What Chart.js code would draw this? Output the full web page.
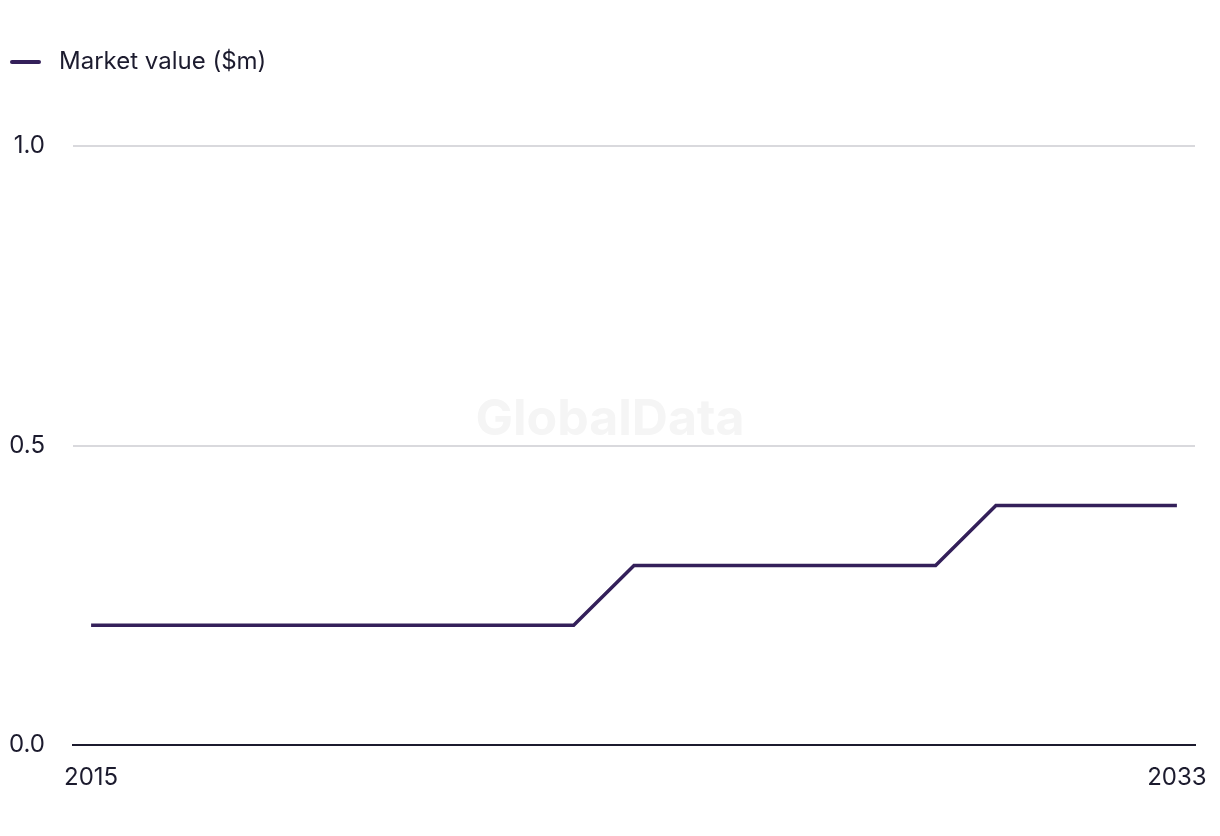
<!DOCTYPE html>
<html>
<head>
<meta charset="utf-8">
<script src="https://cdn.jsdelivr.net/npm/chart.js@4/dist/chart.umd.min.js"></script>
<style>
  html, body { margin: 0; padding: 0; background: #ffffff; }
  #wrap { position: relative; width: 1220px; height: 836px; }
  #wm { position: absolute; left: 0; width: 1220px; top: 388px; text-align: center;
        font-family: Inter, "Liberation Sans", sans-serif; font-weight: 700; font-size: 50px;
        color: #f5f5f5; z-index: 0; line-height: 58px; }
  canvas { position: absolute; left: 0; top: 0; z-index: 1; }
</style>
</head>
<body>
<div id="wrap">
  <div id="wm">GlobalData</div>
  <canvas id="c" width="1220" height="836"></canvas>
</div>
<script>
const years = [2015,2016,2017,2018,2019,2020,2021,2022,2023,2024,2025,2026,2027,2028,2029,2030,2031,2032,2033];
const marketValue = [0.2,0.2,0.2,0.2,0.2,0.2,0.2,0.2,0.2,0.3,0.3,0.3,0.3,0.3,0.3,0.4,0.4,0.4,0.4];
const xTickLabels = [2015, 2033];
const yTickValues = [0, 0.5, 1.0];
const seriesName = 'Market value ($m)';

const LINE = '#34205a';
const TEXT = '#1c1b2e';
const FONT = 'Inter, "Liberation Sans", sans-serif';

// legend marker: 37px wide image with a line on its left
const marker = document.createElement('canvas');
marker.width = 37; marker.height = 6;
const mctx = marker.getContext('2d');
mctx.strokeStyle = LINE; mctx.lineWidth = 4; mctx.lineCap = 'round';
mctx.beginPath(); mctx.moveTo(2, 3); mctx.lineTo(29, 3); mctx.stroke();

const legendSpacer = {
  id: 'legendSpacer',
  beforeInit(chart) {
    const orig = chart.legend.fit;
    chart.legend.fit = function () { orig.call(this); this.height += 62; };
  }
};

new Chart(document.getElementById('c'), {
  type: 'line',
  data: {
    datasets: [{
      label: seriesName,
      data: years.map((y, i) => ({ x: y, y: marketValue[i] })),
      borderColor: LINE,
      backgroundColor: LINE,
      borderWidth: 3.5,
      pointRadius: 0,
      tension: 0,
      fill: false
    }]
  },
  options: {
    responsive: false,
    animation: false,
    layout: { padding: { top: 40, left: 0, right: 25, bottom: 26 } },
    plugins: {
      legend: {
        display: true,
        position: 'top',
        align: 'start',
        labels: {
          usePointStyle: true,
          pointStyle: marker,
          pointStyleWidth: 37,
          boxHeight: 6,
          padding: 10,
          color: TEXT,
          font: { family: FONT, size: 24 }
        }
      },
      tooltip: { enabled: false }
    },
    scales: {
      x: {
        type: 'linear',
        min: 2014.7,
        max: 2033.3,
        afterBuildTicks(scale) { scale.ticks = xTickLabels.map(v => ({ value: v })); },
        afterFit(scale) { scale.paddingLeft = 0; scale.paddingRight = 0; },
        ticks: {
          color: TEXT,
          font: { family: FONT, size: 24 },
          padding: 18,
          maxRotation: 0,
          autoSkip: false,
          callback: v => String(v)
        },
        grid: { display: false, drawTicks: false },
        border: { display: true, color: TEXT, width: 2 }
      },
      y: {
        min: 0,
        max: 1,
        afterBuildTicks(scale) { scale.ticks = yTickValues.map(v => ({ value: v })); },
        afterFit(scale) { scale.width = 73; },
        ticks: {
          color: TEXT,
          font: { family: FONT, size: 24 },
          padding: 28,
          callback: v => Number(v).toFixed(1)
        },
        grid: { color: '#d9d9dd', lineWidth: 2, drawTicks: false },
        border: { display: false }
      }
    }
  },
  plugins: [legendSpacer]
});
</script>
</body>
</html>
